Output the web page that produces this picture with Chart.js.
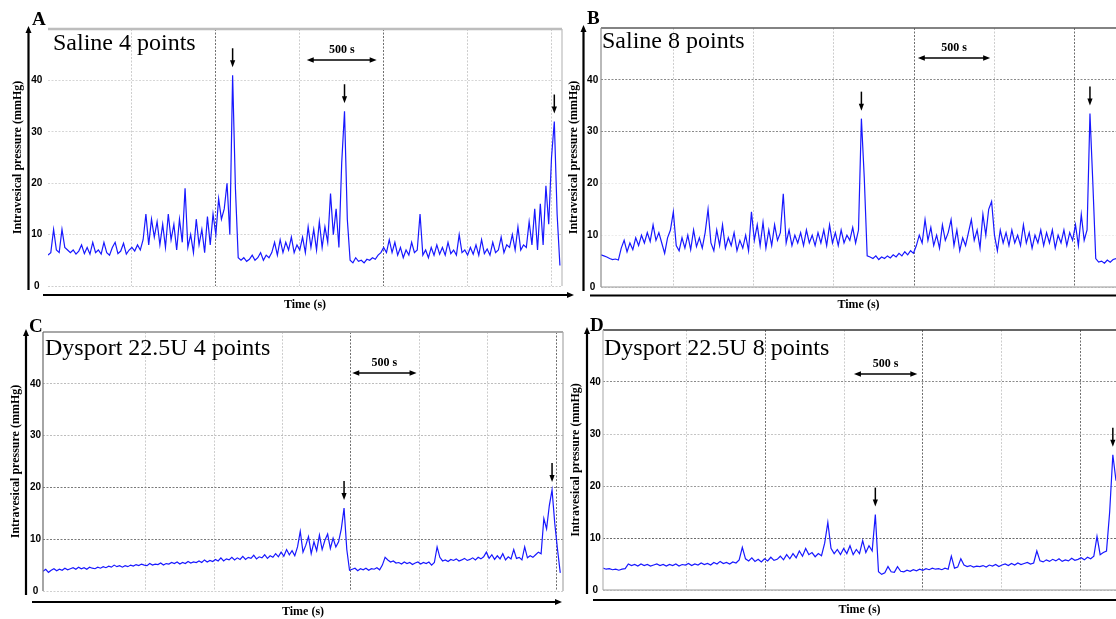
<!DOCTYPE html>
<html>
<head>
<meta charset="utf-8">
<script src="https://cdn.jsdelivr.net/npm/chart.js@4.4.1/dist/chart.umd.min.js"></script>
<style>
  body { margin: 0; background: #fff; }
  #fig { position: relative; width: 1116px; height: 619px; overflow: hidden; background: #fff; }
  #fig canvas { position: absolute; }
</style>
</head>
<body>
<div id="fig">
  <canvas id="cA" width="580" height="312" style="left:0;top:0"></canvas>
  <canvas id="cB" width="560" height="312" style="left:556px;top:0"></canvas>
  <canvas id="cC" width="580" height="311" style="left:0;top:308px"></canvas>
  <canvas id="cD" width="560" height="311" style="left:556px;top:308px"></canvas>
</div>
<script>
// sampling interval of the traces (s)
const DT = 20;
const yTicks = [0, 10, 20, 30, 40];

// intravesical pressure, mmHg, one value every DT seconds
const saline4 = [
  6, 6.5, 11, 7, 6.5, 11, 7.5, 7, 6.5, 7,
  6.2, 6.8, 8, 6.3, 7.5, 6.2, 8.5, 6.5, 7, 6.2,
  8.5, 6.5, 6, 7.5, 8.5, 6.3, 6.8, 8.3, 6.2, 7,
  7.5, 6.8, 8, 7, 9, 14, 8, 13, 9.5, 12.5,
  8, 12, 7.5, 14, 9, 12, 7, 13, 8.5, 19,
  7.5, 10, 6.5, 13, 8, 11, 6.5, 13.5, 8, 14,
  10, 17, 13, 15, 20, 10, 41, 19, 5.5, 5,
  5.5, 4.8, 5.2, 6, 5, 5.5, 6.5, 5, 6, 5.5,
  6.5, 8.5, 6, 9, 6.5, 8.5, 7, 9.5, 6.5, 8,
  7, 9.5, 6.5, 11.5, 7.5, 11, 7, 12.5, 7.5, 11.5,
  8.5, 18, 10, 15, 7.5, 24, 34, 13, 5, 4.5,
  5.5, 4.8, 5, 4.5, 5.2, 5, 5.5, 5.2, 6, 6.5,
  7.5, 6.5, 9, 6.5, 8.5, 6, 7.5, 5.5, 7, 6,
  8.5, 6.5, 7, 14, 6, 7, 5.5, 7.5, 6, 8,
  6.2, 7.5, 6, 8.5, 6.3, 7, 6, 10, 6.5, 7,
  6, 7.5, 6.2, 8, 6, 9, 6.3, 7.2, 6, 8.5,
  6.5, 7, 9.5, 6.5, 8, 7.5, 10, 7, 11.5, 7,
  8, 7.5, 12.5, 8, 15, 7, 16, 8, 19.5, 12,
  25, 32, 14, 4
];
const saline8 = [
  6.2, 6, 5.8, 5.5, 5.3, 5.4, 5.2, 7.5, 9, 6.8,
  8.5, 7.2, 9.5, 8, 10, 8.5, 10.5, 8.8, 12, 9,
  10.5, 8.5, 6.5, 9.5, 11, 14.5, 8, 7, 9.5, 7.5,
  10, 7.2, 11, 7.8, 9.5, 7.5, 10.5, 15, 8.5, 7,
  11, 8, 12, 7.5, 9.5, 8, 10.5, 7, 9, 7.5,
  10, 7, 14.5, 9, 12, 8, 12.5, 7.5, 11, 8,
  12, 9, 10.5, 18, 8.5, 11, 8, 10, 8.5, 10.5,
  8, 11, 8.5, 10, 8, 10.5, 8.5, 11, 8, 12,
  8.5, 10.5, 8, 11, 8.5, 10, 9, 11.5, 8.5, 11,
  32.5, 21, 6, 5.8, 5.5, 6, 5.3, 5.8, 5.5, 6,
  5.6, 6.2, 5.8, 6.5, 6, 6.8, 6.2, 7, 6.5, 8,
  10, 8.5, 13, 9, 11.5, 8, 10, 7.5, 12, 9,
  10.5, 13, 8, 11, 7, 9.5, 8, 10.5, 13, 9,
  11, 7.5, 14, 10, 15, 16.5, 10, 7, 11, 8.5,
  10.5, 8, 11, 8.5, 10, 8, 12, 8.5, 10.5, 7.5,
  10, 8.5, 11, 8, 10.5, 8.5, 11, 7.5, 10, 8.5,
  11, 8, 10.5, 9, 12, 8, 14, 9, 11, 33.5,
  20, 5.5, 4.8, 5, 4.6, 5.2, 4.8, 5.3, 5.5
];
const dysport4 = [
  3.8, 4.2, 3.6, 4.0, 4.3, 3.9, 4.2, 4.0, 4.4, 4.1,
  4.3, 4.5, 4.2, 4.6, 4.3, 4.5, 4.2, 4.6, 4.4, 4.3,
  4.6, 4.4, 4.7, 4.5, 4.8, 4.6, 5.0, 4.7, 4.9, 4.6,
  4.9, 4.7, 5.0, 4.8, 5.1, 4.9, 5.2, 5.0, 4.9, 5.3,
  5.0, 5.2, 5.1, 5.4, 5.0, 5.3, 5.2, 5.5, 5.3, 5.6,
  5.2, 5.5, 5.3, 5.7, 5.4, 5.6, 5.5, 5.8, 5.5, 6.0,
  5.6, 5.9, 5.7, 6.1, 5.8, 6.4, 5.8, 6.2, 6.0, 6.5,
  6.0, 6.4, 6.1, 6.7, 6.1, 6.5, 6.3, 6.9, 6.2, 6.6,
  6.4, 7.0, 6.3, 6.8, 6.5, 7.2, 6.6, 7.5, 6.7, 8.0,
  7.0, 7.8, 6.8, 8.5, 11.5, 7.5, 8.8, 10.5, 7.2, 9.5,
  7.8, 10.8, 8.0, 9.8, 11.0, 8.2, 10.2, 8.5, 9.5, 12.0,
  16.0, 8.0, 4.0, 4.2, 4.4, 3.9, 4.3, 4.1, 4.4, 4.0,
  4.3, 4.2, 4.5, 4.1, 5.0, 6.5, 6.0, 5.6, 5.8, 5.4,
  5.5, 5.2, 5.6, 5.3, 5.5, 5.1, 5.4, 5.6, 5.2, 5.5,
  5.3, 5.6, 5.0, 5.5, 8.5, 6.5, 5.8, 6.0, 5.7, 6.1,
  5.9, 6.2, 5.8, 6.0, 6.3, 5.9, 6.1, 6.4, 6.0, 6.5,
  6.2, 6.6, 7.5, 6.3, 7.0, 6.1, 6.8, 6.2, 7.2, 6.0,
  6.6, 6.2, 8.0, 6.3, 6.5, 6.0, 8.5, 6.4, 6.8, 6.5,
  7.0, 7.5, 7.2, 14.0, 12.0, 16.5, 19.5, 13.0, 8.0, 3.5
];
const dysport8 = [
  4.2, 4.0, 4.1, 3.9, 4.0, 3.8, 4.0, 4.1, 5.0, 4.7,
  4.9, 4.6, 5.0, 4.7, 4.9, 4.6, 4.8, 5.0, 4.7, 4.9,
  4.6, 4.9, 4.7, 5.0, 4.6, 4.9, 4.8, 5.1, 4.7, 5.0,
  4.8, 5.2, 4.9, 5.1, 4.8, 5.3, 5.0, 5.5, 5.1, 5.3,
  5.0, 5.4, 5.2, 5.8, 8.2, 6.0, 5.6, 6.2, 5.5, 5.9,
  5.4, 6.0, 5.6, 6.3, 5.7, 5.9, 6.5, 5.8, 6.8, 6.0,
  7.0, 6.2, 7.5, 6.5, 8.0, 6.8, 7.2, 6.4, 7.0, 6.6,
  9.0, 13.0, 8.0, 7.0, 7.8, 6.8, 8.0, 7.0, 8.5, 6.8,
  7.8, 7.0, 9.5, 7.2, 8.5, 7.5, 14.5, 3.5, 3.0, 3.3,
  4.5, 3.5, 3.4, 4.5, 3.6, 3.5, 3.8, 3.6, 3.9, 3.7,
  4.0, 3.8, 4.1, 3.9, 4.2, 4.0, 4.1, 3.9, 4.2, 4.0,
  6.5, 4.2, 4.4, 6.0, 4.8, 4.5, 4.7, 4.4, 4.6, 4.5,
  4.7, 4.4, 4.8, 4.6, 4.9, 4.5, 4.8, 5.0, 4.7, 5.1,
  4.8, 5.2, 4.9, 5.1, 5.3, 5.0, 5.2, 7.5, 5.6, 5.4,
  5.8, 5.5, 5.9, 5.6, 6.0, 5.5, 5.8, 5.6, 6.1, 5.7,
  5.9, 6.2, 5.8, 6.3, 6.0, 6.5, 10.3, 6.8, 7.2, 7.5,
  15.0, 26.0, 21.0
];

// sample index of each voiding peak marked by an arrow
const peaksA = [66, 106, 181];
const peaksB = [90, 169];
const peaksC = [110, 186];
const peaksD = [86, 161];

// vertical grid lines (s) and the darker ones among them
const gridA = [600, 1200, 1800, 2400, 3000, 3600];
const darkA = [1200, 2400];
const gridB = [500, 1055, 1610, 2165, 2720, 3275];
const darkB = [2165, 3275];
const gridC = [750, 1250, 1750, 2250, 2750, 3250, 3750];
const darkC = [2250, 3750];
const gridD = [525, 1025, 1525, 2020, 2515, 3015];
const darkD = [1025, 2020, 3015];

// 500 s scale bars (start, end in s)
const barA = [1850, 2350];
const barB = [2190, 2690];
const barC = [2260, 2730];
const barD = [1585, 1985];

const serif = '"Liberation Serif", "Times New Roman", serif';

const panels = [
  { id: 'cA', letter: 'A', title: 'Saline 4 points', values: saline4, peaks: peaksA,
    grid: gridA, dark: darkA, bar: barA, xMax: 3675,
    pad: { left: 10.6, top: 29, right: 18, bottom: 0 }, yW: 37.4, xH: 26, tickPad: 5.7,
    yGrid: ['#cfcfcf', '#d6d6d6', '#d6d6d6', '#d6d6d6', '#d6d6d6'],
    top: ['#bdbdbd', 2.5], left: null, right: ['#bdbdbd', 1.2], bottom: null,
    yArrow: 19.5, xArrow: 9, xStart: 5, xEnd: 10, barDy: 31,
    titleDx: 5, titleDy: 21, letterX: 32, letterY: 25 },
  { id: 'cB', letter: 'B', title: 'Saline 8 points', values: saline8, peaks: peaksB,
    grid: gridB, dark: darkB, bar: barB, xMax: 3560,
    pad: { left: 10.8, top: 28, right: 0, bottom: 0 }, yW: 34.2, xH: 25, tickPad: 2.8,
    yGrid: ['#cfcfcf', '#ececec', '#ececec', '#8a8a8a', '#8a8a8a'],
    top: ['#5a5a5a', 1.5], left: ['#8a8a8a', 1.2], right: null, bottom: ['#9a9a9a', 1.2],
    yArrow: 17.5, xArrow: 8.5, xStart: 11, xEnd: 20, barDy: 30,
    titleDx: 1, titleDy: 20, letterX: 31, letterY: 24 },
  { id: 'cC', letter: 'C', title: 'Dysport 22.5U 4 points', values: dysport4, peaks: peaksC,
    grid: gridC, dark: darkC, bar: barC, xMax: 3800,
    pad: { left: 8.5, top: 24, right: 17, bottom: 0 }, yW: 34.5, xH: 28, tickPad: 2,
    yGrid: ['#cfcfcf', '#7a7a7a', '#7a7a7a', '#bdbdbd', '#bdbdbd'],
    top: ['#a8a8a8', 2], left: ['#6a6a6a', 1.2], right: ['#a8a8a8', 1.2], bottom: null,
    yArrow: 17, xArrow: 11, xStart: 11, xEnd: -3, barDy: 41,
    titleDx: 2, titleDy: 23, letterX: 29, letterY: 24 },
  { id: 'cD', letter: 'D', title: 'Dysport 22.5U 8 points', values: dysport8, peaks: peaksD,
    grid: gridD, dark: darkD, bar: barD, xMax: 3240,
    pad: { left: 13, top: 22, right: 0, bottom: 2 }, yW: 34, xH: 27, tickPad: 2.2,
    yGrid: ['#cfcfcf', '#6a6a6a', '#9a9a9a', '#c4c4c4', '#8a8a8a'],
    top: ['#333333', 1.3], left: ['#b5b5b5', 1.2], right: null, bottom: ['#9a9a9a', 1.2],
    yArrow: 16, xArrow: 10, xStart: 10, xEnd: 20, barDy: 44,
    titleDx: 1, titleDy: 25, letterX: 34, letterY: 23 }
];

function seg(ctx, x1, y1, x2, y2) {
  ctx.beginPath(); ctx.moveTo(x1, y1); ctx.lineTo(x2, y2); ctx.stroke();
}
function head(ctx, x, y, dir, w, l) {
  ctx.beginPath();
  ctx.moveTo(x, y);
  if (dir === 'up') { ctx.lineTo(x - w, y + l); ctx.lineTo(x + w, y + l); }
  if (dir === 'down') { ctx.lineTo(x - w, y - l); ctx.lineTo(x + w, y - l); }
  if (dir === 'right') { ctx.lineTo(x - l, y - w); ctx.lineTo(x - l, y + w); }
  if (dir === 'left') { ctx.lineTo(x + l, y - w); ctx.lineTo(x + l, y + w); }
  ctx.closePath(); ctx.fill();
}

// borders, axis arrows, peak markers, scale bar and labels
function decoFor(p) {
  return {
    id: 'deco' + p.letter,
    afterDraw(chart) {
      const { ctx, chartArea: a, scales: { x, y } } = chart;
      ctx.save();
      ctx.setLineDash([]);
      const edge = (st, x1, y1, x2, y2) => {
        if (!st) return;
        ctx.strokeStyle = st[0]; ctx.lineWidth = st[1];
        seg(ctx, x1, y1, x2, y2);
      };
      edge(p.top, a.left, a.top, a.right, a.top);
      edge(p.left, a.left, a.top, a.left, a.bottom);
      edge(p.right, a.right, a.top, a.right, a.bottom);
      edge(p.bottom, a.left, a.bottom, a.right, a.bottom);

      ctx.strokeStyle = '#000'; ctx.fillStyle = '#000';
      // y axis arrow
      ctx.lineWidth = 2.2;
      const ax = a.left - p.yArrow;
      seg(ctx, ax, a.bottom + 4, ax, a.top + 2);
      head(ctx, ax, a.top - 3, 'up', 3, 7);
      // x axis arrow
      const ay = a.bottom + p.xArrow;
      seg(ctx, a.left - p.xStart, ay, a.right + p.xEnd - 4, ay);
      head(ctx, a.right + p.xEnd + 2, ay, 'right', 3, 7);

      // arrows over the voiding peaks
      ctx.lineWidth = 1.5;
      p.peaks.forEach(i => {
        const px = x.getPixelForValue(i * DT);
        const tip = y.getPixelForValue(p.values[i]) - 8;
        seg(ctx, px, tip - 19, px, tip - 4);
        head(ctx, px, tip, 'down', 2.6, 7);
      });

      // 500 s scale bar
      const x1 = x.getPixelForValue(p.bar[0]);
      const x2 = x.getPixelForValue(p.bar[1]);
      const by = a.top + p.barDy;
      ctx.lineWidth = 1.5;
      seg(ctx, x1 + 4, by, x2 - 4, by);
      head(ctx, x1, by, 'left', 2.8, 7);
      head(ctx, x2, by, 'right', 2.8, 7);
      ctx.font = 'bold 12px ' + serif;
      ctx.textAlign = 'center'; ctx.textBaseline = 'alphabetic';
      ctx.fillText('500 s', (x1 + x2) / 2, by - 7);

      // panel title inside the plot
      ctx.font = '24px ' + serif;
      ctx.textAlign = 'left';
      ctx.fillText(p.title, a.left + p.titleDx, a.top + p.titleDy);

      // panel letter
      ctx.font = 'bold 19px ' + serif;
      ctx.fillText(p.letter, p.letterX, p.letterY);
      ctx.restore();
    }
  };
}

function renderPanel(p) {
  const tickFont = { family: '"Liberation Sans", Arial, sans-serif', size: 10, weight: 'bold' };
  const titleFont = { family: serif, size: 12, weight: 'bold' };
  new Chart(document.getElementById(p.id), {
    type: 'line',
    data: {
      datasets: [{
        data: p.values.map((v, i) => ({ x: i * DT, y: v })),
        borderColor: 'rgb(24, 24, 255)',
        borderWidth: 1.2,
        pointRadius: 0,
        tension: 0
      }]
    },
    options: {
      responsive: false,
      animation: false,
      events: [],
      layout: { padding: p.pad },
      plugins: { legend: { display: false }, tooltip: { enabled: false } },
      scales: {
        x: {
          type: 'linear', min: 0, max: p.xMax,
          afterBuildTicks: s => { s.ticks = p.grid.map(v => ({ value: v })); },
          afterFit: s => { s.height = p.xH; },
          ticks: { display: false },
          grid: {
            drawTicks: false, lineWidth: 1,
            color: c => (c.tick && p.dark.includes(c.tick.value)) ? '#6e6e6e' : '#cdcdcd'
          },
          border: { display: false, dash: [2, 1.5] },
          title: { display: true, text: 'Time (s)', color: '#000', font: titleFont, padding: 0 }
        },
        y: {
          min: 0, max: 50,
          afterBuildTicks: s => { s.ticks = yTicks.map(v => ({ value: v })); },
          afterFit: s => { s.width = p.yW; },
          ticks: { color: '#000', font: tickFont, padding: p.tickPad, crossAlign: 'center' },
          grid: {
            drawTicks: false, lineWidth: 1,
            color: c => c.tick ? p.yGrid[yTicks.indexOf(c.tick.value)] : '#ccc'
          },
          border: { display: false, dash: [2, 1.5] },
          title: { display: true, text: 'Intravesical pressure (mmHg)', color: '#000', font: titleFont, padding: 0 }
        }
      }
    },
    plugins: [decoFor(p)]
  });
}

panels.forEach(renderPanel);
</script>
</body>
</html>
